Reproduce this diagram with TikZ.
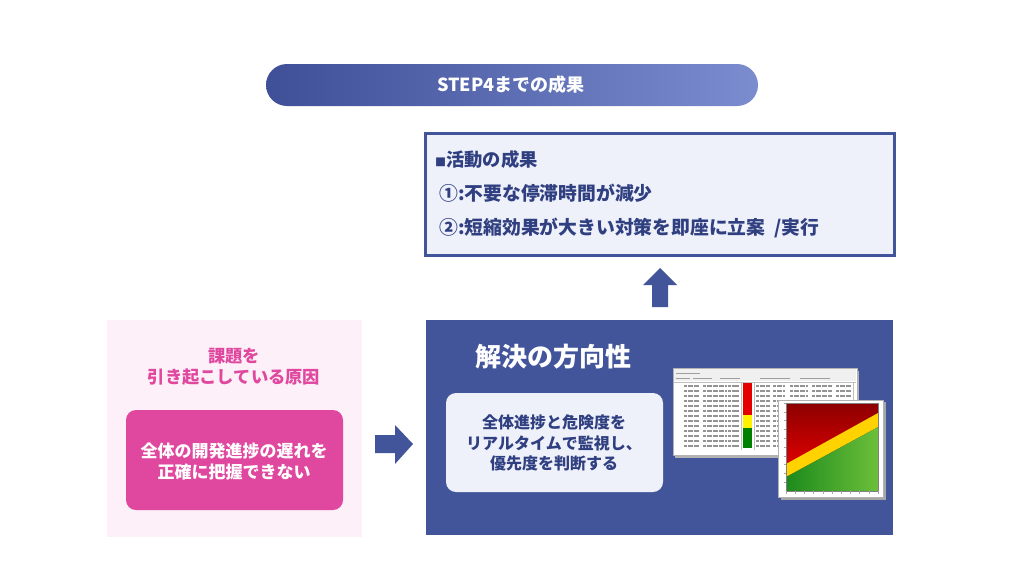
\documentclass[tikz,border=0pt]{standalone}
\usepackage{fontspec}
\setmainfont{Noto Sans CJK JP}
\definecolor{navy}{HTML}{42559A}
\definecolor{navytxt}{HTML}{2F3F80}
\definecolor{paleblue}{HTML}{EEF0FA}
\definecolor{pink}{HTML}{E0479E}
\definecolor{palepink}{HTML}{FDF0F8}
\definecolor{bandL}{HTML}{3F4F98}
\definecolor{bandR}{HTML}{7B8CCF}
\definecolor{gold}{HTML}{FFD200}
\definecolor{dkgreen}{HTML}{1C8A1C}
\definecolor{ltgreen}{HTML}{6CBF3A}
\tikzset{
  fs/.style 2 args={font=\fontsize{#1}{#2}\selectfont\bfseries},
  txt/.style={inner sep=0pt},
  blockarrow/.style={fill=navy,draw=none},
  rowline/.style={draw=gray!85,line width=1.3pt,dash pattern=on 3pt off 0.8pt on 5pt off 0.8pt on 2pt off 0.8pt},
}
\begin{document}
\begin{tikzpicture}[x=1pt,y=-1pt]
\useasboundingbox (0,0) rectangle (1024,576);
\fill[white] (0,0) rectangle (1024,576);
% banner
\shade[left color=bandL,right color=bandR,rounded corners=21pt] (266,64) rectangle (758,106);
\node[txt,fs={18}{22},text=white] (banner) at (511,85) {STEP4までの成果};
% result box
\draw[fill=paleblue,draw=navy,line width=3pt] (425,133) rectangle (894,255);
\node[txt,fs={18.3}{22},text=navytxt,anchor=west] (r0) at (435,160) {{\fontsize{11}{12}\selectfont ■}活動の成果};
\node[txt,fs={18.8}{22},text=navytxt,anchor=west] (r1) at (439,193) {①:不要な停滞時間が減少};
\node[txt,fs={18.8}{22},text=navytxt,anchor=west] (r2) at (439,228) {②:短縮効果が大きい対策を即座に立案\ \ /実行};
% up arrow
\fill[blockarrow] (652,307) -- (668,307) -- (668,285) -- (677,285) -- (660,268) -- (643,285) -- (652,285) -- cycle;
% blue box
\fill[navy] (426,320) rectangle (893,535);
\node[txt,fs={26}{30},text=white,anchor=west] (sol) at (475,357) {解決の方向性};
\fill[paleblue,rounded corners=10pt] (446,393) rectangle (663,492);
\node[txt,fs={16}{20.5},text=navytxt,align=center] (soltxt) at (554,443) {全体進捗と危険度を\\リアルタイムで監視し、\\優先度を判断する};
% table screenshot
\fill[black!30] (675,371) rectangle (859,458);
\fill[white,draw=gray!60,line width=0.5pt] (673,368) rectangle (857,455);
\fill[gray!12] (674,369) rectangle (856,381);
\draw[gray!75,line width=0.8pt] (676,373) -- (700,373) (676,378) -- (690,378) (693,378) -- (712,378) (720,378) -- (740,378) (760,378) -- (790,378) (800,378) -- (830,378);
\draw[gray!50,line width=0.4pt] (674,382) -- (856,382);
\foreach \y in {386,391,396,401,406,411,416,421,426,431,436,441,446}{
  \draw[rowline] (684,\y) -- (700,\y);
  \draw[rowline] (703,\y) -- (739,\y);
  \draw[rowline] (756,\y) -- (770,\y);
  \draw[rowline] (773,\y) -- (785,\y);
  \draw[rowline] (790,\y) -- (808,\y);
  \draw[rowline] (812,\y) -- (832,\y);
  \draw[rowline] (836,\y) -- (852,\y);
}
\draw[gray!50,line width=0.4pt] (741,382) -- (741,450) (754,382) -- (754,450) (853,382) -- (853,450);
\fill[red!90!black] (743,383) rectangle (752,415);
\fill[yellow] (743,415) rectangle (752,428);
\fill[green!50!black] (743,428) rectangle (752,448);
% chart screenshot
\fill[black!35] (781,402) rectangle (886,500);
\fill[white,draw=gray!60,line width=0.5pt] (778,400) rectangle (883,497);
\begin{scope}
\clip (786,403) rectangle (878,491);
\shade[top color=red!55!black,bottom color=red!95!black] (786,403) rectangle (878,480);
\fill[gold] (786,464) -- (878,413) -- (878,427) -- (786,477) -- cycle;
\shade[shading angle=210,left color=dkgreen,right color=ltgreen] (786,477) -- (878,427) -- (878,491) -- (786,491) -- cycle;
\end{scope}
\draw[gray,line width=0.4pt] (786,403) rectangle (878,491);
\foreach \x in {786,795.2,...,878}{\draw[gray!70,line width=0.3pt] (\x,491) -- (\x,493.5);}
\foreach \y in {403,411.8,...,491}{\draw[gray!70,line width=0.3pt] (786,\y) -- (783.5,\y);}
% left pink panel
\fill[palepink] (107,320) rectangle (362,537);
\node[txt,fs={17.3}{21},text=pink,align=center] (cause) at (234,367) {課題を\\引き起こしている原因};
\fill[pink,rounded corners=10pt] (126,410) rectangle (343,510);
\node[txt,fs={17}{21},text=white,align=center] (causetxt) at (234,461) {全体の開発進捗の遅れを\\正確に把握できない};
% right arrow
\fill[blockarrow] (375,435) -- (395,435) -- (395,425) -- (413,444) -- (395,464) -- (395,453) -- (375,453) -- cycle;
\end{tikzpicture}
\end{document}
